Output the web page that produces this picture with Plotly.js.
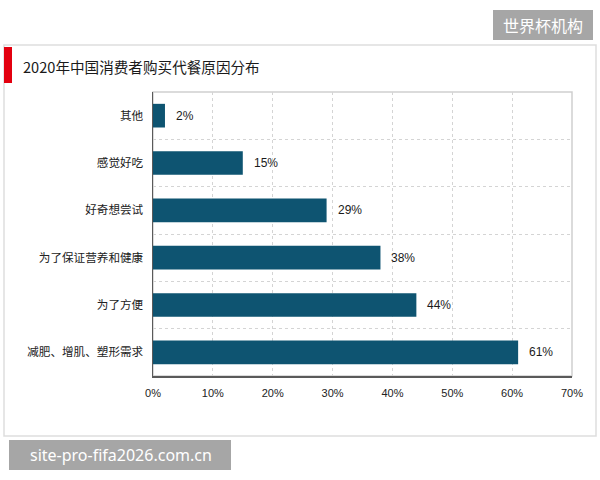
<!DOCTYPE html>
<html>
<head>
<meta charset="utf-8">
<script src="https://cdn.plot.ly/plotly-3.0.1.min.js"></script>
<style>html,body{margin:0;padding:0;background:#fff;}#chart{width:600px;height:480px;}</style>
</head>
<body>
<div id="chart"></div>
<script>
// Data (bottom to top)
const categories = ['减肥、增肌、塑形需求', '为了方便', '为了保证营养和健康', '好奇想尝试', '感觉好吃', '其他'];
const values = [61, 44, 38, 29, 15, 2];
const xTickVals = [0, 10, 20, 30, 40, 50, 60, 70];
const xTickText = ['0%', '10%', '20%', '30%', '40%', '50%', '60%', '70%'];
const titleText = '2020年中国消费者购买代餐原因分布';
const badgeText = '世界杯机构';
const footerText = 'site-pro-fifa2026.com.cn';

const W = 600, H = 480;
const M = {l: 153, r: 28, t: 92, b: 104};
const PW = W - M.l - M.r, PH = H - M.t - M.b;
const px = v => (v - M.l) / PW;
const py = v => (H - M.b - v) / PH;

const cjk = '"Noto Sans CJK SC", "Noto Sans", sans-serif';

const trace = {
  type: 'bar',
  orientation: 'h',
  x: values,
  y: categories,
  marker: {color: '#0e5471'},
  width: 0.5,
  hoverinfo: 'none'
};

const valueLabels = categories.map((c, i) => ({
  x: values[i], y: c, xref: 'x', yref: 'y',
  text: values[i] + '%', showarrow: false,
  xanchor: 'left', yanchor: 'middle', xshift: 9,
  font: {family: 'Arial, "Liberation Sans", sans-serif', size: 12, color: '#1a1a1a'}
}));

const layout = {
  width: W, height: H,
  margin: M,
  paper_bgcolor: '#fff', plot_bgcolor: '#fff',
  showlegend: false,
  title: {
    text: titleText, xref: 'container', yref: 'container',
    x: 23 / W, xanchor: 'left', y: 1 - 68 / H, yanchor: 'middle',
    font: {family: cjk, size: 14.6, color: '#1a1a1a'}
  },
  xaxis: {
    range: [0, 70], tickvals: xTickVals, ticktext: xTickText,
    showgrid: true, gridcolor: '#d4d4d4', griddash: '3px,3px', gridwidth: 1,
    zeroline: false, showline: true, linecolor: '#5a5a5a', linewidth: 1.5,
    ticks: '', ticklabelstandoff: 6,
    tickfont: {family: 'Arial, "Liberation Sans", sans-serif', size: 11, color: '#222'},
    fixedrange: true
  },
  yaxis: {
    type: 'category', categoryorder: 'array', categoryarray: categories,
    tickson: 'boundaries', showgrid: true, gridcolor: '#d4d4d4', griddash: '3px,3px', gridwidth: 1,
    zeroline: false, showline: true, linecolor: '#5a5a5a', linewidth: 1.5,
    ticks: '', ticklabelstandoff: 6,
    tickfont: {family: cjk, size: 11.6, color: '#222'},
    fixedrange: true
  },
  shapes: [
    // outer panel
    {type: 'rect', xref: 'paper', yref: 'paper', x0: px(4), x1: px(596), y0: py(436), y1: py(45),
     line: {color: '#dedede', width: 1.5}, fillcolor: 'rgba(0,0,0,0)', layer: 'below'},
    // red accent bar
    {type: 'rect', xref: 'paper', yref: 'paper', x0: px(4), x1: px(12), y0: py(83), y1: py(47),
     line: {width: 0}, fillcolor: '#e3000f', layer: 'above'},
    // plot frame
    {type: 'rect', xref: 'paper', yref: 'paper', x0: 0, x1: 1, y0: 0, y1: 1,
     line: {color: '#cfcfcf', width: 1.5}, fillcolor: 'rgba(0,0,0,0)', layer: 'below'},
    // top-right badge
    {type: 'rect', xref: 'paper', yref: 'paper', x0: px(493), x1: px(593), y0: py(40), y1: py(10),
     line: {width: 0}, fillcolor: '#a6a6a6', layer: 'above'},
    // footer badge
    {type: 'rect', xref: 'paper', yref: 'paper', x0: px(9), x1: px(231), y0: py(470), y1: py(440),
     line: {width: 0}, fillcolor: '#a6a6a6', layer: 'above'}
  ],
  annotations: valueLabels.concat([
    {xref: 'paper', yref: 'paper', x: px(543), y: py(25), xanchor: 'center', yanchor: 'middle',
     text: badgeText, showarrow: false, font: {family: cjk, size: 16, color: '#fff'}},
    {xref: 'paper', yref: 'paper', x: px(121), y: py(455), xanchor: 'center', yanchor: 'middle',
     text: footerText, showarrow: false, font: {family: '"Noto Sans", "DejaVu Sans", sans-serif', size: 16, color: '#fff'}}
  ])
};

Plotly.newPlot('chart', [trace], layout, {displayModeBar: false, staticPlot: true});
</script>
</body>
</html>
